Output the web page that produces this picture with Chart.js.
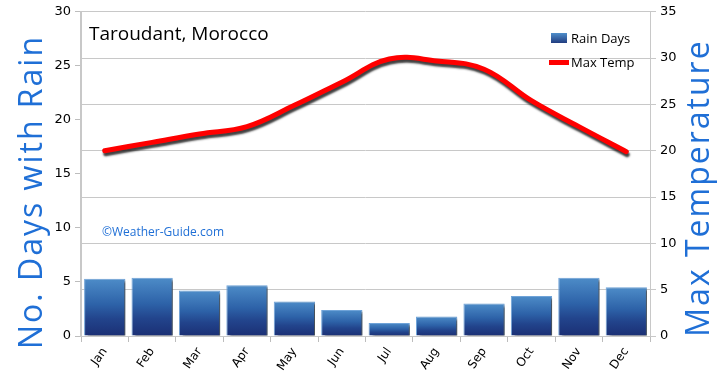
<!DOCTYPE html>
<html>
<head>
<meta charset="utf-8">
<script src="https://cdn.jsdelivr.net/npm/chart.js@4/dist/chart.umd.min.js"></script>
<style>
html,body{margin:0;padding:0;background:#fff;}
#wrap{width:720px;height:381px;position:relative;}
</style>
</head>
<body>
<div id="wrap"><canvas id="c" width="720" height="381"></canvas></div>
<script>
const months = ['Jan','Feb','Mar','Apr','May','Jun','Jul','Aug','Sep','Oct','Nov','Dec'];
const rainDays = [5.3, 5.4, 4.2, 4.7, 3.2, 2.4, 1.2, 1.8, 3.0, 3.7, 5.4, 4.5];
const maxTemp = [20.0, 20.9, 21.8, 22.6, 24.9, 27.4, 29.9, 29.7, 28.8, 25.4, 22.6, 19.9];
const chartTitle = 'Taroudant, Morocco';
const leftTitle = 'No. Days with Rain';
const rightTitle = 'Max Temperature';
const watermark = '\u00A9Weather-Guide.com';
const legendLabels = ['Rain Days', 'Max Temp'];

const blue = '#1f6fd6';

const shadowPlugin = {
  id: 'shadowPlugin',
  beforeDatasetDraw(chart, args) {
    const ctx = chart.ctx;
    ctx.save();
    const t = chart.data.datasets[args.index].type;
    if (t === 'bar') {
      ctx.shadowColor = 'rgba(60,60,60,0.8)';
      ctx.shadowOffsetX = 4; ctx.shadowOffsetY = 2; ctx.shadowBlur = 2;
    } else {
      ctx.shadowColor = 'rgba(30,30,30,0.85)';
      ctx.shadowOffsetX = 1; ctx.shadowOffsetY = 3; ctx.shadowBlur = 2;
    }
  },
  afterDatasetDraw(chart) { chart.ctx.restore(); }
};

const textPlugin = {
  id: 'textPlugin',
  afterDraw(chart) {
    const ctx = chart.ctx;
    const a = chart.chartArea;
    ctx.save();
    ctx.fillStyle = '#000';
    ctx.font = '19px "Open Sans", sans-serif';
    ctx.textBaseline = 'middle';
    ctx.textAlign = 'left';
    ctx.fillText(chartTitle, a.left + 8, 35);
    ctx.fillStyle = blue;
    ctx.font = '12px "Open Sans", sans-serif';
    ctx.fillText(watermark, a.left + 21, 233);
    const lx = 551;
    const g = ctx.createLinearGradient(0, 33, 0, 44);
    g.addColorStop(0, '#4f8fcb'); g.addColorStop(1, '#1d3478');
    ctx.fillStyle = g;
    ctx.fillRect(lx, 33, 16, 10);
    ctx.fillStyle = '#ff0000';
    ctx.fillRect(lx - 2, 60, 20, 5);
    ctx.fillStyle = '#000';
    ctx.font = '13px "Open Sans", sans-serif';
    ctx.fillText(legendLabels[0], lx + 20, 39);
    ctx.fillText(legendLabels[1], lx + 20, 63);
    ctx.fillStyle = blue;
    ctx.font = '32px "Open Sans", sans-serif';
    ctx.letterSpacing = '2px';
    ctx.textAlign = 'center';
    ctx.save();
    ctx.translate(33, 192);
    ctx.rotate(-Math.PI / 2);
    ctx.fillText(leftTitle, 0, 0);
    ctx.restore();
    ctx.save();
    ctx.translate(700, 188);
    ctx.rotate(-Math.PI / 2);
    ctx.fillText(rightTitle, 0, 0);
    ctx.restore();
    ctx.restore();
  }
};

function barGradient(c) {
  const chart = c.chart;
  const a = chart.chartArea;
  if (!a || c.parsed === undefined) return '#2f5fa5';
  const ys = chart.scales.y;
  const top = ys.getPixelForValue(c.parsed.y);
  const bottom = ys.getPixelForValue(0);
  const g = chart.ctx.createLinearGradient(0, top, 0, bottom);
  g.addColorStop(0, '#4d8cc8');
  g.addColorStop(0.45, '#2d62a8');
  g.addColorStop(0.7, '#22448c');
  g.addColorStop(1, '#1b2f74');
  return g;
}

new Chart(document.getElementById('c'), {
  data: {
    labels: months,
    datasets: [
      {
        type: 'line', label: legendLabels[1], data: maxTemp, yAxisID: 'y1', order: 0,
        borderColor: '#ff0000', borderWidth: 5, pointRadius: 0, tension: 0.4,
        fill: false, borderCapStyle: 'round'
      },
      {
        type: 'bar', label: legendLabels[0], data: rainDays, yAxisID: 'y', order: 1,
        backgroundColor: barGradient, borderColor: '#6fa3d8', borderWidth: 1,
        categoryPercentage: 1, barPercentage: 0.87
      }
    ]
  },
  options: {
    responsive: false, animation: false,
    layout: { padding: { top: 9, left: 0, right: 0, bottom: 0 } },
    plugins: { legend: { display: false }, tooltip: { enabled: false }, title: { display: false } },
    scales: {
      x: {
        offset: true,
        grid: { display: true, drawOnChartArea: false, offset: true, tickLength: 6, color: '#bdbdbd' },
        border: { color: '#c8c8c8', width: 1 },
        ticks: { color: '#000', font: { family: 'DejaVu Sans', size: 12 }, minRotation: 55, maxRotation: 55, padding: 3 },
        afterFit(s) { s.height = 45; }
      },
      y: {
        position: 'left', min: 0, max: 30,
        ticks: { stepSize: 5, color: '#000', font: { family: 'DejaVu Sans', size: 13 }, padding: 4 },
        grid: { drawOnChartArea: false, tickLength: 6, color: '#bdbdbd' },
        border: { color: '#c8c8c8', width: 2 },
        afterFit(s) { s.width = 81; }
      },
      y1: {
        position: 'right', min: 0, max: 35,
        ticks: { stepSize: 5, color: '#000', font: { family: 'DejaVu Sans', size: 13 }, padding: 4 },
        grid: { drawOnChartArea: true, tickLength: 6, color: '#c8c8c8' },
        border: { color: '#c8c8c8', width: 1 },
        afterFit(s) { s.width = 70; }
      }
    }
  },
  plugins: [shadowPlugin, textPlugin]
});
</script>
</body>
</html>
